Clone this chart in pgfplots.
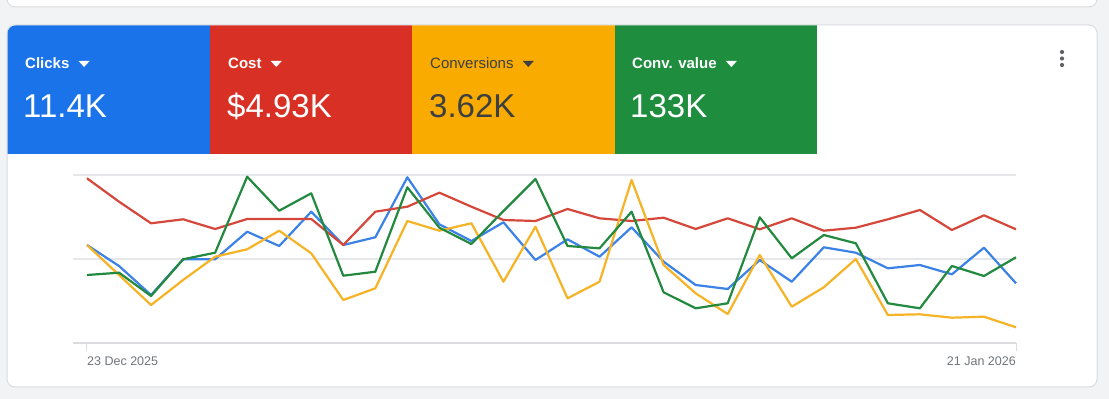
\documentclass[border=0pt]{standalone}
\usepackage{pgfplots}
\pgfplotsset{compat=1.18}
\usepackage{pgfplotstable}
\usepackage{fontspec}
\setmainfont{Liberation Sans}
\definecolor{bg}{HTML}{F1F3F4}
\definecolor{cardborder}{HTML}{DADCE0}
\definecolor{tblue}{HTML}{1A73E8}
\definecolor{tred}{HTML}{D93025}
\definecolor{tyellow}{HTML}{F9AB00}
\definecolor{tgreen}{HTML}{1E8E3E}
\definecolor{lblue}{HTML}{3B82E6}
\definecolor{lred}{HTML}{D6473B}
\definecolor{lyellow}{HTML}{F6B325}
\definecolor{lgreen}{HTML}{23893F}
\definecolor{darktext}{HTML}{3C4043}
\definecolor{ticktext}{HTML}{70757A}
\definecolor{gridc}{HTML}{E6E7EA}
\definecolor{kebab}{HTML}{5F6368}

\pgfplotstableread{
red blue green yellow
164.7 98 68 98
141.3 77 70.3 68
119.7 48 47 38
123.7 83.7 83.7 63
114 83.7 90.3 86.3
124 111.3 166.3 93.7
124 97 132.3 112.3
124 131.3 149.7 89.7
98 98 67.3 43
131.3 105.7 71.3 54.7
136.3 165.7 155.7 122
150.3 118.7 115.3 112.3
136.3 102 99 119.7
123 120.7 132 61.3
122 83 164 116.3
134 103.7 97 44.7
124.7 86.3 94.7 61.3
122 115.7 131.3 163
125.3 81.3 50.7 78
114 58 34.7 49.7
124.7 54 39.7 29
113.7 83 125.7 88
124.7 61.3 84.7 36.3
112.3 95.7 108 55.7
115.3 90.3 99.7 84
123.7 74.7 39.7 28
133 78 34.7 28.7
113 68.7 77 25.3
127.7 95.3 67 26.3
113.7 59.7 85.7 15.7
}\datatable

\begin{document}
\begin{tikzpicture}[x=1pt,y=1pt]
\fill[bg] (0,0) rectangle (1109,399);
% top card fragment
\begin{scope}
\clip (0,0) rectangle (1109,399);
\draw[cardborder, fill=white, rounded corners=8pt, line width=1pt] (7,392) rectangle (1097,440);
\end{scope}
% main card
\draw[cardborder, fill=white, rounded corners=8pt, line width=1pt] (7,12) rectangle (1097,374);
\begin{scope}
\clip[rounded corners=8pt] (7.5,12.5) rectangle (1096.5,373.5);
\fill[tblue] (7,245) rectangle (210,374);
\fill[tred] (210,245) rectangle (412,374);
\fill[tyellow] (412,245) rectangle (615,374);
\fill[tgreen] (615,245) rectangle (817,374);
\end{scope}
% tile labels
\node[anchor=base west, inner sep=0, text=white, font=\fontsize{15}{18}\selectfont\bfseries] (l1) at (25,330) {Clicks};
\fill[white, shift={(l1.base east)}] (9,8) -- (20,8) -- (14.5,2) -- cycle;
\node[anchor=base west, inner sep=0, text=white, font=\fontsize{15}{18}\selectfont\bfseries] (l2) at (228,330) {Cost};
\fill[white, shift={(l2.base east)}] (9,8) -- (20,8) -- (14.5,2) -- cycle;
\node[anchor=base west, inner sep=0, text=darktext, font=\fontsize{15}{18}\selectfont] (l3) at (430,330) {Conversions};
\fill[darktext, shift={(l3.base east)}] (9,8) -- (20,8) -- (14.5,2) -- cycle;
\node[anchor=base west, inner sep=0, text=white, font=\fontsize{15}{18}\selectfont\bfseries] (l4) at (632,330) {Conv. value};
\fill[white, shift={(l4.base east)}] (9,8) -- (20,8) -- (14.5,2) -- cycle;
\node[anchor=base west, inner sep=0, text=white, font=\fontsize{33}{38}\selectfont] at (23,281) {11.4K};
\node[anchor=base west, inner sep=0, text=white, font=\fontsize{33}{38}\selectfont] at (227,281) {\$4.93K};
\node[anchor=base west, inner sep=0, text=darktext, font=\fontsize{33}{38}\selectfont] at (429,281) {3.62K};
\node[anchor=base west, inner sep=0, text=white, font=\fontsize{33}{38}\selectfont] at (630,281) {133K};
% kebab menu
\fill[kebab] (1062,347) circle (2.1);
\fill[kebab] (1062,340.5) circle (2.1);
\fill[kebab] (1062,334) circle (2.1);
% chart
\begin{axis}[at={(73pt,56pt)}, anchor=south west, width=943pt, height=168pt, scale only axis,
  xmin=-0.437, xmax=29, ymin=0, ymax=168, clip=false,
  axis line style={draw=none},
  ytick={0,84,168}, yticklabels={}, ymajorgrids,
  major grid style={gridc, line width=1.6pt},
  ytick style={draw=none},
  xtick={0,29}, xticklabels={}, xtick pos=bottom, tick align=outside,
  major tick length=8pt, xtick style={cardborder, line width=1pt}]
\draw[cardborder, line width=1.6pt] (axis cs:-0.437,0) -- (axis cs:29,0);
\addplot[lblue, line width=2.2pt, line join=round] table[x expr=\coordindex, y=blue] {\datatable};
\addplot[lred, line width=2.2pt, line join=round] table[x expr=\coordindex, y=red] {\datatable};
\addplot[lyellow, line width=2.2pt, line join=round] table[x expr=\coordindex, y=yellow] {\datatable};
\addplot[lgreen, line width=2.2pt, line join=round] table[x expr=\coordindex, y=green] {\datatable};
\node[anchor=base west, inner sep=0, text=ticktext, font=\fontsize{12.5}{15}\selectfont, yshift=-23pt] at (axis cs:0,0) {23 Dec 2025};
\node[anchor=base east, inner sep=0, text=ticktext, font=\fontsize{12.5}{15}\selectfont, yshift=-23pt] at (axis cs:29,0) {21 Jan 2026};
\end{axis}
\pgfresetboundingbox
\useasboundingbox (0,0) rectangle (1109,399);
\end{tikzpicture}
\end{document}
